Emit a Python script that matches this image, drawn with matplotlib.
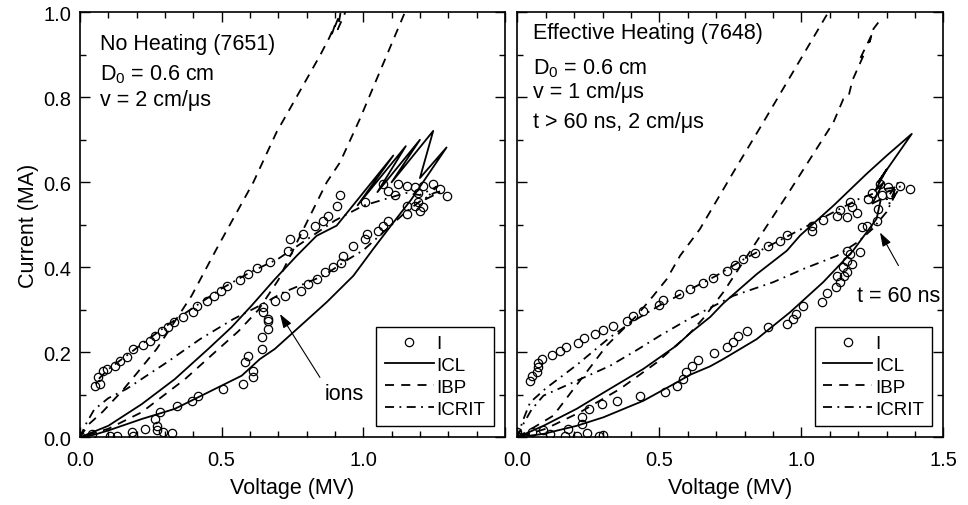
import matplotlib.pyplot as plt
import numpy as np
from matplotlib.ticker import MultipleLocator

plt.rcParams['font.family'] = ['Liberation Sans', 'DejaVu Sans']
plt.rcParams['mathtext.fontset'] = 'custom'
plt.rcParams['mathtext.rm'] = 'Liberation Sans'
plt.rcParams['mathtext.default'] = 'regular'

nan = np.nan

# ---- left panel: no heating (7651) ----
left_i_v = [0.053, 0.065, 0.071, 0.082, 0.094, 0.124, 0.141, 0.165, 0.188, 0.223, 0.247, 0.265,
            0.288, 0.312, 0.333, 0.365, 0.4, 0.412, 0.45, 0.474, 0.498, 0.518, 0.565, 0.594,
            0.624, 0.671, 0.735, 0.74, 0.788, 0.83, 0.859, 0.876, 0.906, 0.918, 1.006, 1.071,
            1.088, 1.124, 1.112, 1.153, 1.182, 1.212, 1.247, 1.194, 1.271, 1.294, 1.194, 1.212,
            1.182, 1.153, 1.2,
            1.153, 1.088, 1.071, 1.053, 1.012, 1.006, 0.965, 0.929, 0.923, 0.894, 0.865, 0.835,
            0.806, 0.782, 0.724, 0.688, 0.647, 0.647, 0.662, 0.665, 0.665, 0.641, 0.641, 0.594,
            0.582, 0.612, 0.612, 0.576, 0.506, 0.418, 0.394, 0.341, 0.282, 0.265, 0.271, 0.271,
            0.294, 0.324, 0.229, 0.182, 0.188, 0.13, 0.106, 0.041, 0.0]
left_i_i = [0.121, 0.141, 0.125, 0.157, 0.161, 0.168, 0.18, 0.189, 0.208, 0.216, 0.227, 0.238,
            0.249, 0.259, 0.272, 0.282, 0.296, 0.308, 0.321, 0.332, 0.345, 0.357, 0.371, 0.384,
            0.398, 0.412, 0.439, 0.467, 0.478, 0.498, 0.51, 0.521, 0.545, 0.569, 0.553, 0.596,
            0.58, 0.596, 0.569, 0.592, 0.588, 0.592, 0.596, 0.576, 0.584, 0.567, 0.553, 0.541,
            0.545, 0.545, 0.533,
            0.525, 0.51, 0.498, 0.486, 0.478, 0.467, 0.451, 0.427, 0.41, 0.4, 0.388, 0.372,
            0.361, 0.345, 0.333, 0.321, 0.306, 0.294, 0.274, 0.278, 0.255, 0.235, 0.208, 0.192,
            0.176, 0.157, 0.141, 0.125, 0.114, 0.098, 0.086, 0.074, 0.059, 0.043, 0.027, 0.016,
            0.013, 0.009, 0.02, 0.012, 0.004, 0.002, 0.002, 0.008, 0.003]

left_icl_v = [0, 0.05, 0.1, 0.218, 0.335, 0.453, 0.571, 0.635, 0.688, 0.753, 0.871, 0.965,
              1.035, 1.1, 1.17, 1.235, 1.294, 1.2, 1.247, 1.1, 1.2, 1.05, 1.15, 0.98, 1.106,
              0.906, 0.835, 0.765, 0.688, 0.606, 0.535, 0.453, 0.335, 0.218, 0.1, 0]
left_icl_i = [0, 0.006, 0.016, 0.043, 0.067, 0.106, 0.145, 0.184, 0.208, 0.247, 0.318, 0.38,
              0.443, 0.5, 0.56, 0.624, 0.682, 0.61, 0.721, 0.6, 0.70, 0.577, 0.685, 0.546, 0.663,
              0.498, 0.474, 0.427, 0.372, 0.31, 0.259, 0.208, 0.137, 0.078, 0.027, 0]

left_ibp_v = [0, 0.03, 0.08, 0.15, 0.2, 0.271, 0.394, 0.482, 0.612, 0.694, 0.741, 0.847, 0.88,
              0.9, 0.89, 0.92, 0.91, 0.95, 1.0, nan,
              1.2, 1.147, 0.988, 0.918, 0.871, 0.812, 0.7, 0.63, 0.56, 0.476, 0.371, 0.218,
              0.1, 0.04, 0]
left_ibp_i = [0, 0.03, 0.06, 0.11, 0.15, 0.208, 0.333, 0.443, 0.6, 0.718, 0.773, 0.898, 0.94,
              0.97, 0.95, 1.0, 0.96, 1.02, 1.09, nan,
              1.08, 1.0, 0.749, 0.647, 0.6, 0.521, 0.37, 0.3, 0.25, 0.2, 0.137, 0.059,
              0.02, 0.008, 0]

left_icrit_v = [0, 0.02, 0.05, 0.1, 0.165, 0.306, 0.424, 0.541, 0.635, 0.718, 0.859, 0.95, 1.0,
                1.05, 1.1, 1.15, 1.2, 1.25, 1.28, 1.22, 1.26, 1.2, 1.15, 1.1, 1.0, 0.9, 0.8,
                0.7, 0.6, 0.5, 0.4, 0.3, 0.2, 0.15, 0.1, 0.07, 0.055]
left_icrit_i = [0, 0.03, 0.065, 0.092, 0.114, 0.176, 0.231, 0.278, 0.31, 0.341, 0.38, 0.42, 0.44,
                0.47, 0.5, 0.53, 0.555, 0.575, 0.58, 0.56, 0.59, 0.57, 0.575, 0.565, 0.545, 0.51,
                0.465, 0.42, 0.388, 0.35, 0.305, 0.26, 0.21, 0.185, 0.16, 0.14, 0.125]

# ---- right panel: effective heating (7648) ----
right_i_v = [0.045, 0.051, 0.068, 0.074, 0.074, 0.086, 0.121, 0.15, 0.171, 0.215, 0.235, 0.274,
             0.301, 0.338, 0.385, 0.406, 0.444, 0.499, 0.512, 0.57, 0.608, 0.653, 0.69, 0.737,
             0.767, 0.796, 0.837, 0.884, 0.925, 0.949, 1.037, 1.037, 1.078, 1.125, 1.136, 1.16,
             1.171, 1.178, 1.195, 1.236, 1.248, 1.277, 1.306, 1.312, 1.348, 1.383, 1.283,
             0.0, 0.0, 0.051, 0.092, 0.115, 0.168, 0.18, 0.209, 0.227, 0.227, 0.246, 0.254,
             0.289, 0.303, 0.297, 0.35, 0.432, 0.52, 0.561, 0.585, 0.594, 0.614, 0.637, 0.693,
             0.739, 0.761, 0.778, 0.81, 0.882, 0.949, 0.972, 0.981, 1.007, 1.072, 1.089, 1.121,
             1.136, 1.125, 1.15, 1.162, 1.148, 1.177, 1.16, 1.171, 1.16, 1.207, 1.213, 1.23,
             1.265, 1.271]
right_i_i = [0.133, 0.145, 0.153, 0.165, 0.175, 0.184, 0.194, 0.204, 0.212, 0.222, 0.233, 0.242,
             0.253, 0.263, 0.274, 0.286, 0.298, 0.311, 0.324, 0.337, 0.349, 0.363, 0.376, 0.392,
             0.405, 0.42, 0.434, 0.451, 0.463, 0.476, 0.498, 0.486, 0.512, 0.521, 0.535, 0.518,
             0.553, 0.541, 0.528, 0.561, 0.575, 0.596, 0.588, 0.572, 0.592, 0.584, 0.569,
             0.003, 0.012, 0.013, 0.017, 0.008, 0.002, 0.02, 0.002, 0.031, 0.047, 0.009, 0.067,
             0.002, 0.005, 0.078, 0.086, 0.096, 0.106, 0.121, 0.137, 0.154, 0.168, 0.183, 0.198,
             0.213, 0.225, 0.238, 0.251, 0.259, 0.267, 0.278, 0.29, 0.31, 0.319, 0.34, 0.353,
             0.366, 0.38, 0.38, 0.388, 0.4, 0.408, 0.416, 0.431, 0.439, 0.435, 0.494, 0.498,
             0.51, 0.537]

right_icl_v = [0, 0.092, 0.209, 0.303, 0.444, 0.561, 0.608, 0.679, 0.725, 0.843, 0.96, 1.077,
               1.171, 1.183, 1.265, 1.28, 1.25, 1.29, 1.26, 1.3, 1.27, 1.389, 1.301, 1.23,
               1.113, 0.996, 0.949, 0.843, 0.725, 0.679, 0.608, 0.561, 0.444, 0.326, 0.209,
               0.092, 0]
right_icl_i = [0, 0.008, 0.027, 0.047, 0.086, 0.129, 0.147, 0.167, 0.184, 0.231, 0.294, 0.365,
               0.431, 0.44, 0.514, 0.56, 0.55, 0.6, 0.58, 0.63, 0.6, 0.714, 0.663, 0.62,
               0.545, 0.475, 0.439, 0.384, 0.315, 0.283, 0.245, 0.216, 0.161, 0.114, 0.067,
               0.027, 0]

right_ibp_v = [0, 0.05, 0.127, 0.203, 0.256, 0.315, 0.42, 0.479, 0.526, 0.573, 0.643, 0.761,
               0.866, 1.095, 1.2, nan,
               1.271, 1.254, 1.24, 1.25, 1.207, 1.22, 1.18, 1.167, 1.148, 1.113, 1.031, 0.949,
               0.725, 0.655, 0.608, 0.491, 0.362, 0.221, 0.1, 0]
right_ibp_i = [0, 0.02, 0.051, 0.118, 0.164, 0.216, 0.286, 0.333, 0.372, 0.427, 0.49, 0.624,
               0.741, 1.0, 1.12, nan,
               0.976, 0.961, 0.93, 0.95, 0.891, 0.9, 0.84, 0.804, 0.796, 0.741, 0.655, 0.569,
               0.341, 0.28, 0.245, 0.176, 0.114, 0.059, 0.02, 0]

right_icrit_v = [0, 0.02, 0.05, 0.092, 0.209, 0.326, 0.42, 0.502, 0.608, 0.761, 0.901, 1.007,
                 1.125, 1.2, 1.25, 1.3, 1.33, 1.3, 1.34, 1.31, 1.35, 1.3, 1.2, 1.1, 1.0, 0.9,
                 0.8, 0.7, 0.6, 0.5, 0.4, 0.326, 0.209, 0.1, 0.045, 0.02, 0]
right_icrit_i = [0, 0.03, 0.065, 0.098, 0.133, 0.168, 0.205, 0.239, 0.28, 0.333, 0.365, 0.396,
                 0.427, 0.46, 0.49, 0.53, 0.57, 0.56, 0.6, 0.55, 0.59, 0.585, 0.56, 0.525, 0.49,
                 0.455, 0.42, 0.38, 0.345, 0.31, 0.27, 0.235, 0.17, 0.115, 0.082, 0.04, 0]


def draw_panel(ax, i_v, i_i, icl_v, icl_i, ibp_v, ibp_i, icrit_v, icrit_i):
    ax.plot(i_v, i_i, 'o', ms=6, mfc='none', mec='k', mew=0.9, label='I')
    ax.plot(icl_v, icl_i, color='k', lw=1.3, label='ICL')
    ax.plot(ibp_v, ibp_i, color='k', lw=1.3, dashes=(5, 4), label='IBP')
    ax.plot(icrit_v, icrit_i, color='k', lw=1.3, dashes=(5, 3, 1, 3), label='ICRIT')
    ax.set_xlim(0, 1.5)
    ax.set_ylim(0, 1.0)
    ax.xaxis.set_major_locator(MultipleLocator(0.5))
    ax.xaxis.set_minor_locator(MultipleLocator(0.1))
    ax.yaxis.set_major_locator(MultipleLocator(0.2))
    ax.yaxis.set_minor_locator(MultipleLocator(0.1))
    ax.tick_params(which='both', direction='in', top=True, right=True, labelsize=14.5, width=1)
    ax.tick_params(which='major', length=7)
    ax.tick_params(which='minor', length=4)
    ax.tick_params(axis='x', which='both', pad=9)
    ax.tick_params(axis='y', which='both', pad=6)
    for sp in ax.spines.values():
        sp.set_linewidth(1.2)
    ax.set_xlabel('Voltage (MV)', fontsize=15.5, labelpad=6)
    leg = ax.legend(loc='lower right', fontsize=13.5, fancybox=False, edgecolor='k', framealpha=1,
                    handlelength=2.6, handletextpad=0.15, labelspacing=0.25, borderpad=0.45,
                    borderaxespad=0.6)
    leg.get_frame().set_linewidth(1.0)


fig = plt.figure(figsize=(9.68, 5.06), dpi=100)
ax1 = fig.add_axes([0.0826, 0.1338, 0.4390, 0.8399])
ax2 = fig.add_axes([0.5344, 0.1338, 0.4401, 0.8399])

draw_panel(ax1, left_i_v, left_i_i, left_icl_v, left_icl_i, left_ibp_v, left_ibp_i,
           left_icrit_v, left_icrit_i)
draw_panel(ax2, right_i_v, right_i_i, right_icl_v, right_icl_i, right_ibp_v, right_ibp_i,
           right_icrit_v, right_icrit_i)

ax1.set_xticks([0, 0.5, 1.0, 1.5], ['0.0', '0.5', '1.0', ''])
ax1.set_ylabel('Current (MA)', fontsize=15.5, labelpad=3)
ax2.set_xticks([0, 0.5, 1.0, 1.5], ['0.0', '0.5', '1.0', '1.5'])
ax2.tick_params(labelleft=False)

# panel notes
ax1.text(0.047, 0.914, 'No Heating (7651)', transform=ax1.transAxes, fontsize=15.5, va='baseline')
ax1.text(0.047, 0.843, 'D$_0$ = 0.6 cm', transform=ax1.transAxes, fontsize=15.5, va='baseline')
ax1.text(0.047, 0.783, 'v = 2 cm/μs', transform=ax1.transAxes, fontsize=15.5, va='baseline')

ax2.text(0.038, 0.939, 'Effective Heating (7648)', transform=ax2.transAxes, fontsize=15.5, va='baseline')
ax2.text(0.038, 0.857, 'D$_0$ = 0.6 cm', transform=ax2.transAxes, fontsize=15.5, va='baseline')
ax2.text(0.038, 0.800, 'v = 1 cm/μs', transform=ax2.transAxes, fontsize=15.5, va='baseline')
ax2.text(0.038, 0.729, 't > 60 ns, 2 cm/μs', transform=ax2.transAxes, fontsize=15.5, va='baseline')

# arrows
arrow = dict(arrowstyle='-|>,head_length=0.6,head_width=0.2', color='k', lw=0.8,
             shrinkA=0, shrinkB=0, mutation_scale=14)
ax1.annotate('', xy=(0.706, 0.29), xytext=(0.847, 0.141), arrowprops=arrow)
ax1.text(0.865, 0.09, 'ions', fontsize=15.5, va='baseline')
ax2.annotate('', xy=(1.277, 0.482), xytext=(1.342, 0.404), arrowprops=arrow)
ax2.text(1.195, 0.321, 't = 60 ns', fontsize=15.5, va='baseline')

plt.savefig('out.png', dpi=100)
